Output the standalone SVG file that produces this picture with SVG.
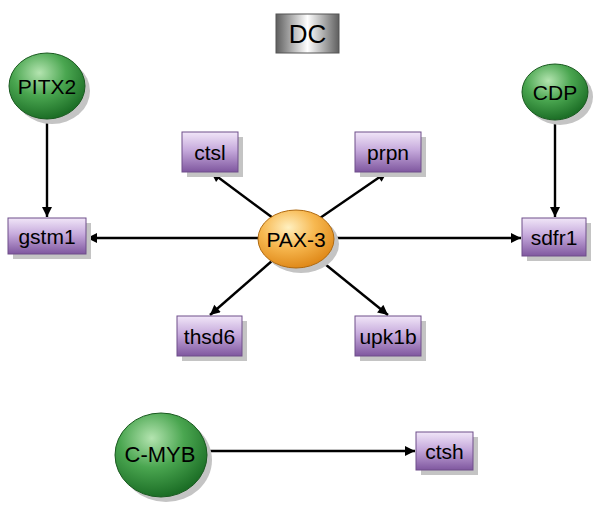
<svg xmlns="http://www.w3.org/2000/svg" width="600" height="506" viewBox="0 0 600 506">
<defs>
<linearGradient id="gBox" x1="0" y1="0" x2="0" y2="1">
<stop offset="0" stop-color="#f1e6f8"/>
<stop offset="0.45" stop-color="#c6aadc"/>
<stop offset="1" stop-color="#7f579f"/>
</linearGradient>
<linearGradient id="gDC" x1="0" y1="0" x2="1" y2="0">
<stop offset="0" stop-color="#5e5e5e"/>
<stop offset="0.5" stop-color="#ffffff"/>
<stop offset="1" stop-color="#5e5e5e"/>
</linearGradient>
<radialGradient id="gGreen" cx="0.4" cy="0.3" r="0.7">
<stop offset="0" stop-color="#b4e4b0"/>
<stop offset="0.5" stop-color="#4aa650"/>
<stop offset="1" stop-color="#1c6e26"/>
</radialGradient>
<radialGradient id="gOrange" cx="0.4" cy="0.3" r="0.7">
<stop offset="0" stop-color="#fff0c0"/>
<stop offset="0.5" stop-color="#f7b850"/>
<stop offset="1" stop-color="#e08a1a"/>
</radialGradient>
<marker id="arr" viewBox="0 0 10 10" refX="10" refY="5" markerWidth="11" markerHeight="10" markerUnits="userSpaceOnUse" orient="auto">
<path d="M0,0 L10,5 L0,10 z" fill="#000"/>
</marker>
</defs>
<style>
.box{fill:url(#gBox);stroke:#6e4e8a;stroke-width:1}
.sh{fill:#c4c4c4}
.green{fill:url(#gGreen);stroke:#1a5a20;stroke-width:1}
.orange{fill:url(#gOrange);stroke:#b06a10;stroke-width:1}
.t{font-family:"Liberation Sans",Arial,sans-serif;font-size:21px;fill:#000;text-anchor:middle;dominant-baseline:central}
.e{stroke:#000;stroke-width:2.4;fill:none;marker-end:url(#arr)}
</style>
<g id="connectors">
<line class="e" x1="47" y1="119" x2="47" y2="217"/>
<line class="e" x1="555" y1="120" x2="555" y2="217"/>
<line class="e" x1="258" y1="238" x2="87" y2="238"/>
<line class="e" x1="334" y1="238" x2="521" y2="238"/>
<line class="e" x1="273" y1="218" x2="211" y2="172"/>
<line class="e" x1="320" y1="218" x2="387" y2="172"/>
<line class="e" x1="273" y1="260" x2="210" y2="315"/>
<line class="e" x1="320" y1="260" x2="388" y2="315"/>
<line class="e" x1="207" y1="451" x2="415" y2="451"/>
</g>
<g id="DC">
<rect x="276" y="14" width="63" height="39" fill="url(#gDC)" stroke="#555" stroke-width="1"/>
<text class="t" x="307.5" y="34" style="font-size:26px">DC</text>
</g>
<g id="PITX2">
<ellipse cx="52" cy="91" rx="38" ry="33" class="sh"/>
<ellipse cx="47" cy="86" rx="38" ry="33" class="green"/>
<text class="t" x="47" y="86">PITX2</text>
</g>
<g id="CDP">
<ellipse cx="560" cy="97" rx="33" ry="28" class="sh"/>
<ellipse cx="555" cy="92" rx="33" ry="28" class="green"/>
<text class="t" x="555" y="92">CDP</text>
</g>
<g id="C-MYB">
<ellipse cx="166" cy="460" rx="46" ry="42" class="sh"/>
<ellipse cx="161" cy="455" rx="46" ry="42" class="green"/>
<text class="t" x="160" y="454" style="font-size:22px">C-MYB</text>
</g>
<g id="PAX-3">
<ellipse cx="301" cy="244" rx="38" ry="29" class="sh"/>
<ellipse cx="296" cy="239" rx="38" ry="29" class="orange"/>
<text class="t" x="296" y="239">PAX-3</text>
</g>
<g id="gstm1">
<rect x="13" y="223" width="78" height="36" class="sh"/>
<rect x="8" y="218" width="78" height="36" class="box"/>
<text class="t" x="47" y="236">gstm1</text>
</g>
<g id="sdfr1">
<rect x="527" y="223" width="64" height="38" class="sh"/>
<rect x="522" y="218" width="64" height="38" class="box"/>
<text class="t" x="554" y="237">sdfr1</text>
</g>
<g id="ctsl">
<rect x="187" y="137" width="56" height="40" class="sh"/>
<rect x="182" y="132" width="56" height="40" class="box"/>
<text class="t" x="210" y="152">ctsl</text>
</g>
<g id="prpn">
<rect x="360" y="137" width="66" height="40" class="sh"/>
<rect x="355" y="132" width="66" height="40" class="box"/>
<text class="t" x="388" y="152">prpn</text>
</g>
<g id="thsd6">
<rect x="182" y="321" width="65" height="40" class="sh"/>
<rect x="177" y="316" width="65" height="40" class="box"/>
<text class="t" x="209.5" y="336">thsd6</text>
</g>
<g id="upk1b">
<rect x="360" y="321" width="66" height="40" class="sh"/>
<rect x="355" y="316" width="66" height="40" class="box"/>
<text class="t" x="388" y="336">upk1b</text>
</g>
<g id="ctsh">
<rect x="421" y="437" width="57" height="38" class="sh"/>
<rect x="416" y="432" width="57" height="38" class="box"/>
<text class="t" x="444.5" y="451">ctsh</text>
</g>
</svg>
